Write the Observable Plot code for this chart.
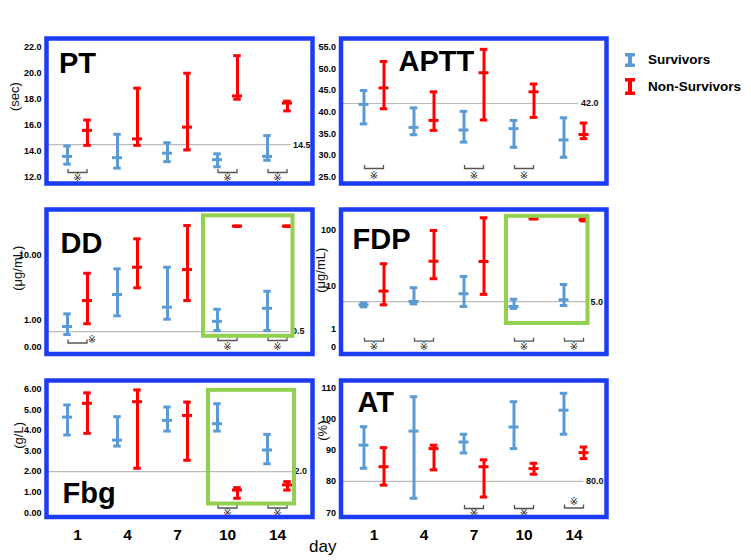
<!DOCTYPE html>
<html><head><meta charset="utf-8">
<script src="https://cdn.jsdelivr.net/npm/d3@7"></script>
<script src="https://cdn.jsdelivr.net/npm/@observablehq/plot@0.6"></script>
<style>
body{margin:0;background:#fff;}
#chart{position:relative;width:751px;height:560px;overflow:hidden;font-family:"Liberation Sans",Arial,sans-serif;background:#fff;}
#chart svg.panel{position:absolute;overflow:visible;background:transparent;}
#legend{position:absolute;left:624px;top:51px;font-weight:bold;font-size:13.5px;color:#000;}
.lrow{position:absolute;left:0;white-space:nowrap;}
.lrow svg{position:absolute;left:0;}
.lrow span{position:absolute;left:24px;}
#daylabel{position:absolute;left:309px;top:537px;font-size:17px;color:#000;}
</style></head><body><div id="chart"></div>
<script>
// ---------------- data ----------------
const days = ["1","4","7","10","14"];
const seriesNames = ["Survivors","Non-Survivors"];
const seriesColors = ["#5b9bd5","#ff0000"];

// each entry: [q1, median, q3] per day
const ptSurv = [[13.0,13.6,14.4],[12.7,13.5,15.3],[13.2,13.85,14.65],[12.8,13.35,13.8],[13.3,13.6,15.2]];
const ptNon  = [[14.45,15.6,16.4],[14.45,14.95,18.85],[14.1,15.85,20.0],[18.0,18.25,21.35],[17.1,17.7,17.85]];
const ptRef = 14.5, ptRefLabel = "14.5";
const ptTicks = [12,14,16,18,20,22];
const ptTickLabels = ["12.0","14.0","16.0","18.0","20.0","22.0"];
const ptSig = [0,3,4];

const apttSurv = [[37.3,41.8,45.0],[34.8,36.5,41.0],[33.1,35.9,40.2],[31.9,36.2,38.1],[29.6,33.6,38.7]];
const apttNon  = [[40.8,45.6,51.7],[35.8,38.1,44.7],[38.2,49.1,54.5],[38.8,44.7,46.5],[33.9,34.85,37.5]];
const apttRef = 42.0, apttRefLabel = "42.0";
const apttTicks = [25,30,35,40,45,50,55];
const apttTickLabels = ["25.0","30.0","35.0","40.0","45.0","50.0","55.0"];
const apttSig = [0,2,3];

const ddSurv = [[0.39,0.71,1.38],[1.26,2.93,6.66],[1.07,1.83,6.99],[0.54,0.96,1.68],[0.54,1.75,3.28]];
const ddNon  = [[0.84,2.36,5.83],[3.68,6.99,15.7],[2.36,6.52,22.6],[22.2,22.2,22.2],[22.2,22.2,22.2]];
const ddRef = 0.5, ddRefLabel = "0.5";
const ddTicks = [0,1,10];
const ddTickLabels = ["0.00","1.00","10.00"];
const ddSig = [0,3,4];

const fdpSurv = [[3.9,4.3,4.7],[4.5,5.05,9.4],[3.96,7.2,15.2],[3.6,3.96,5.6],[4.16,5.46,10.8]];
const fdpNon  = [[4.3,8.1,25.7],[13.8,28.5,98],[7.0,28.2,162],[156,156,156],[143,150,155]];
const fdpRef = 5.0, fdpRefLabel = "5.0";
const fdpTicks = [0,1,10,100];
const fdpTickLabels = ["0","1","10","100"];
const fdpSig = [0,1,3,4];

const fbgSurv = [[3.78,4.65,5.24],[3.24,3.53,4.67],[3.97,4.49,5.14],[3.97,4.33,5.30],[2.38,3.05,3.81]];
const fbgNon  = [[3.86,5.32,5.83],[2.16,5.40,5.97],[2.55,4.73,5.38],[0.70,1.10,1.22],[1.10,1.35,1.51]];
const fbgRef = 2.0, fbgRefLabel = "2.0";
const fbgTicks = [0,1,2,3,4,5,6];
const fbgTickLabels = ["0.00","1.00","2.00","3.00","4.00","5.00","6.00"];
const fbgSig = [3,4];

const atSurv = [[84.2,91.6,97.5],[74.6,96.1,107.1],[89.1,92.6,95.1],[90.5,97.4,105.5],[95.1,102.8,108.2]];
const atNon  = [[78.8,84.7,90.8],[83.7,90.5,91.6],[75.0,84.7,86.9],[82.3,84.1,85.8],[87.3,89.2,91.0]];
const atRef = 80.0, atRefLabel = "80.0";
const atTicks = [70,80,90,100,110];
const atTickLabels = ["70","80","90","100","110"];
const atSig = [2,3,4];

const highlightDays = [3,4];

// ---------------- layout / style ----------------
const frameBlue = "#1c3cf4";
const hlGreen = "#92d050";
const refGray = "#bdbdbd";
const markGray = "#555";

const LEFT = {x0:46, x1:312, svgLeft:0, xDomain:[-0.62,4.70]};
const RIGHT = {x0:340.5, x1:606, svgLeft:300, xDomain:[-0.66,4.65]};

const panels = [
  {name:"PT", unit:"(sec)", surv:ptSurv, non:ptNon, ref:ptRef, refLabel:ptRefLabel, ticks:ptTicks, tickLabels:ptTickLabels, sig:ptSig,
   col:LEFT, y0:38, y1:183, yType:"linear", yDomain:[11.515,22.67], refEnd:4.27,
   nameDx:12.5, nameDy:14, unitDx:-32, unitDy:0, bracketDy:-11, starDy:-5.5, over:{}},
  {name:"APTT", unit:null, surv:apttSurv, non:apttNon, ref:apttRef, refLabel:apttRefLabel, ticks:apttTicks, tickLabels:apttTickLabels, sig:apttSig,
   col:RIGHT, y0:38, y1:183, yType:"linear", yDomain:[23.55,57.0], refEnd:4.10,
   nameDx:57.5, nameDy:12, unitDx:0, unitDy:0, bracketDy:-15, starDy:-8, over:{}},
  {name:"DD", unit:"(\u03bcg/mL)", surv:ddSurv, non:ddNon, ref:ddRef, refLabel:ddRefLabel, ticks:ddTicks, tickLabels:ddTickLabels, sig:ddSig,
   col:LEFT, y0:209, y1:353.5, yType:"symlog", yDomain:[-0.193,34.8], refEnd:4.25,
   nameDx:14, nameDy:23, unitDx:-29, unitDy:9, bracketDy:-13.5, starDy:-7.5,
   over:{0:{bracketDy:-11, starDx:14.5, starDy:-14.5}},
   hl:{top:-10.4, bottom:-5.7, left:-14, right:-5.5}},
  {name:"FDP", unit:"(\u03bcg/mL)", surv:fdpSurv, non:fdpNon, ref:fdpRef, refLabel:fdpRefLabel, ticks:fdpTicks, tickLabels:fdpTickLabels, sig:fdpSig,
   col:RIGHT, y0:209, y1:353.5, yType:"symlog", yDomain:[-0.307,225], refEnd:4.29,
   nameDx:11.5, nameDy:19, unitDx:-20.5, unitDy:11, bracketDy:-12.8, starDy:-6.8, over:{},
   hl:{top:-2.4, bottom:-15, left:-7.5, right:-4}},
  {name:"Fbg", unit:"(g/L)", surv:fbgSurv, non:fbgNon, ref:fbgRef, refLabel:fbgRefLabel, ticks:fbgTicks, tickLabels:fbgTickLabels, sig:fbgSig,
   col:LEFT, y0:379.5, y1:516, yType:"linear", yDomain:[-0.21,6.43], refEnd:4.30, xAxis:true,
   nameDx:16, nameDy:102, unitDx:-28, unitDy:0, bracketDy:-9, starDy:-4, over:{},
   hl:{top:-13.4, bottom:-5.7, left:-9, right:-7}},
  {name:"AT", unit:"(%)", surv:atSurv, non:atNon, ref:atRef, refLabel:atRefLabel, ticks:atTicks, tickLabels:atTickLabels, sig:atSig,
   col:RIGHT, y0:379.5, y1:516, yType:"linear", yDomain:[68.6,112.3], refEnd:4.20, xAxis:true,
   nameDx:16.5, nameDy:10.5, unitDx:-18.5, unitDy:-8, bracketDy:-8.5, starDy:-4,
   over:{4:{bracketDy:-9, starDy:-15}}}
];

const bracketSymbol = {
  draw(ctx) {
    ctx.moveTo(-9.5, -3.5); ctx.lineTo(-9.5, 0); ctx.lineTo(9.5, 0); ctx.lineTo(9.5, -3.5);
  }
};

const chart = document.getElementById("chart");

function makePanel(p) {
  const W = 330;
  const c = p.col;
  const mL = c.x0 - c.svgLeft, mR = c.svgLeft + W - c.x1;
  const mT = 30, mB = p.xAxis ? 44 : 14;
  const H = mT + (p.y1 - p.y0) + mB;
  const rows = [];
  p.surv.forEach((v,i) => rows.push({x:i-0.2, q1:v[0], med:v[1], q3:v[2], c:seriesColors[0]}));
  p.non.forEach((v,i) => rows.push({x:i+0.2, q1:v[0], med:v[1], q3:v[2], c:seriesColors[1]}));
  const yb = p.yDomain[0];
  const labelMap = new Map(p.ticks.map((t,i) => [t, p.tickLabels[i]]));

  const marks = [];
  marks.push(Plot.ruleY([p.ref], {x1: () => c.xDomain[0], x2: () => p.refEnd, y: d => d, stroke: refGray, strokeWidth: 1.2}));
  marks.push(Plot.text([p.refLabel], {x: () => p.refEnd, y: () => p.ref, dx: 2, textAnchor: "start", fontSize: 9, fontWeight: "bold", fill: "#111"}));
  marks.push(Plot.ruleX(rows, {x: "x", y1: "q1", y2: "q3", stroke: "c", strokeWidth: 3}));
  marks.push(Plot.ruleY(rows, {y: "q1", x1: d => d.x - 0.075, x2: d => d.x + 0.075, stroke: "c", strokeWidth: 3}));
  marks.push(Plot.ruleY(rows, {y: "q3", x1: d => d.x - 0.075, x2: d => d.x + 0.075, stroke: "c", strokeWidth: 3}));
  marks.push(Plot.ruleY(rows, {y: "med", x1: d => d.x - 0.1, x2: d => d.x + 0.1, stroke: "c", strokeWidth: 3}));
  p.sig.forEach(i => {
    const o = Object.assign({bracketDy: p.bracketDy, starDy: p.starDy, starDx: 0}, p.over[i] || {});
    marks.push(Plot.dot([i], {x: d => d, y: () => yb, symbol: bracketSymbol, r: 3, fill: "none", stroke: markGray, strokeWidth: 1.3, dy: o.bracketDy}));
    marks.push(Plot.text([i], {x: d => d, y: () => yb, text: () => "\u203b", dx: o.starDx, dy: o.starDy, fontSize: 10, fill: "#222", fontFamily: "'DejaVu Sans', sans-serif"}));
  });
  if (p.hl) {
    const sel = highlightDays.flatMap(i => [p.surv[i], p.non[i]]);
    const box = [{x1: highlightDays[0] - 0.2, x2: highlightDays[highlightDays.length-1] + 0.2,
                  y1: d3.min(sel, v => v[0]), y2: d3.max(sel, v => v[2])}];
    marks.push(Plot.rect(box, {x1: "x1", x2: "x2", y1: "y1", y2: "y2", fill: "none", stroke: hlGreen, strokeWidth: 4,
      insetTop: p.hl.top, insetBottom: p.hl.bottom, insetLeft: p.hl.left, insetRight: p.hl.right}));
  }
  marks.push(Plot.axisY(p.ticks, {tickFormat: d => labelMap.get(d), tickSize: 0, tickPadding: 5, fontSize: 9, fontWeight: "bold", label: null}));
  if (p.xAxis) {
    marks.push(Plot.axisX([0,1,2,3,4], {tickFormat: d => days[d], tickSize: 0, tickPadding: 12, fontSize: 15.5, fontWeight: "bold", label: null}));
  }
  marks.push(Plot.text([p.name], {frameAnchor: "top-left", dx: p.nameDx, dy: p.nameDy, textAnchor: "start", lineAnchor: "top", fontSize: 29, fontWeight: "bold", fill: "#000"}));
  if (p.unit) {
    marks.push(Plot.text([p.unit], {frameAnchor: "left", dx: p.unitDx, dy: p.unitDy, rotate: -90, fontSize: 13, fill: "#111"}));
  }
  marks.push(Plot.frame({stroke: frameBlue, strokeWidth: 4.5}));

  const svg = Plot.plot({
    width: W, height: H,
    marginLeft: mL, marginRight: mR, marginTop: mT, marginBottom: mB,
    x: {type: "linear", domain: c.xDomain, axis: null},
    y: p.yType === "symlog" ? {type: "symlog", constant: 1, domain: p.yDomain, axis: null}
                            : {type: "linear", domain: p.yDomain, axis: null},
    color: {type: "identity"},
    style: {fontFamily: "'Liberation Sans', Arial, sans-serif", background: "transparent", overflow: "visible"},
    marks
  });
  svg.classList.add("panel");
  svg.style.position = "absolute";
  svg.style.left = c.svgLeft + "px";
  svg.style.top = (p.y0 - mT) + "px";
  svg.style.maxWidth = "none";
  chart.appendChild(svg);
}

panels.forEach(makePanel);

const legendIcon = [{h:14, top:2}, {h:17, top:27}];
const legend = document.createElement("div");
legend.id = "legend";
seriesNames.forEach((name, k) => {
  const row = document.createElement("div");
  row.className = "lrow";
  row.style.top = legendIcon[k].top + "px";
  const h = legendIcon[k].h;
  const col = seriesColors[k];
  row.innerHTML = `<svg width="12" height="${h}" style="top:0"><rect x="4" y="0" width="4" height="${h}" fill="${col}"/>` +
    `<rect x="1" y="0" width="10" height="3.5" fill="${col}"/><rect x="1" y="${h-3.5}" width="10" height="3.5" fill="${col}"/></svg>` +
    `<span style="top:${h/2 - 8}px">${name}</span>`;
  legend.appendChild(row);
});
chart.appendChild(legend);

const dayLabel = document.createElement("div");
dayLabel.id = "daylabel";
dayLabel.textContent = "day";
chart.appendChild(dayLabel);
</script>
</body></html>
